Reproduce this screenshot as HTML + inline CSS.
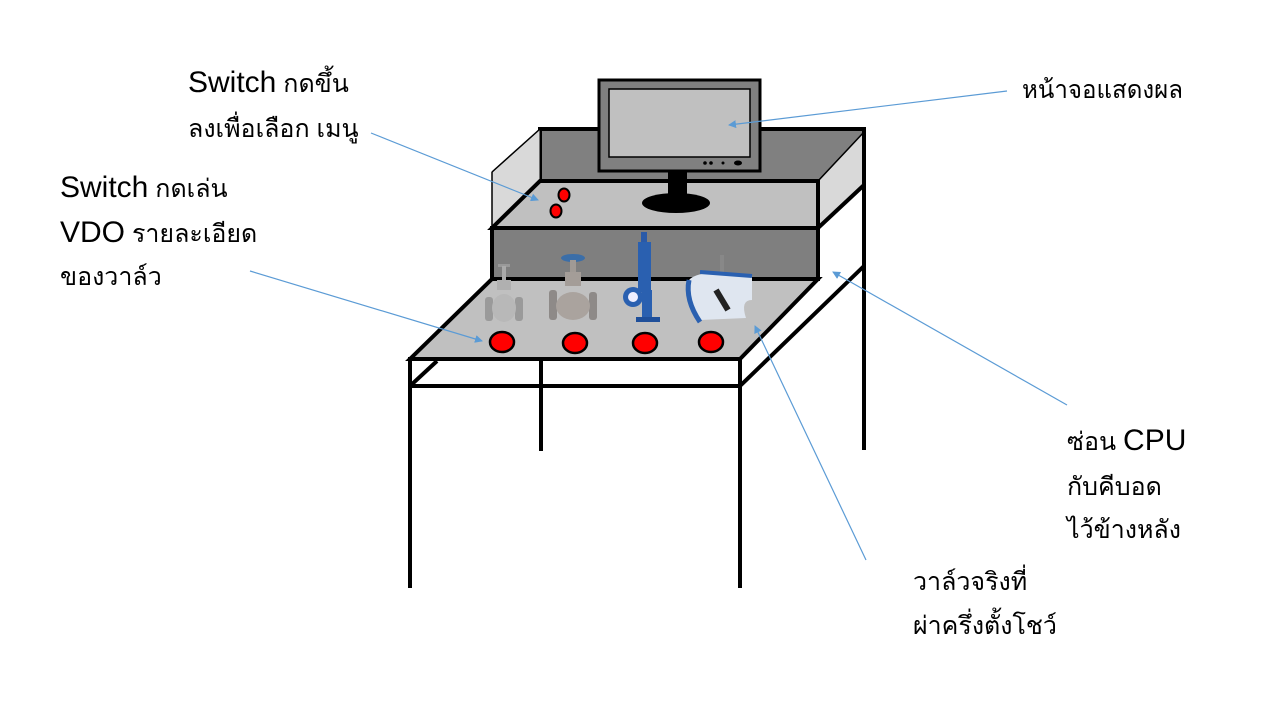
<!DOCTYPE html>
<html><head><meta charset="utf-8"><style>
html,body{margin:0;padding:0;background:#fff;}
svg{display:block;}
text{font-family:"Liberation Sans","DejaVu Sans",sans-serif;fill:#000;}
.t{font-size:25px;}
.b{font-size:30px;}
</style></head><body>
<svg width="1280" height="720" viewBox="0 0 1280 720" xmlns="http://www.w3.org/2000/svg">
<defs>
<marker id="ah" markerWidth="8" markerHeight="8" refX="7" refY="4" orient="auto" markerUnits="userSpaceOnUse">
<path d="M0,0 L8,4 L0,8 z" fill="#5b9bd5"/></marker>
</defs>
<g stroke="#000" stroke-width="4" fill="none">
<rect x="540" y="129" width="324" height="52" fill="#808080"/>
<polygon points="492,172 540,129 540,181 492,227" fill="#d9d9d9" stroke-width="1"/>
<polygon points="818,181 864,132 864,185 818,228" fill="#d9d9d9" stroke-width="1"/>
<line x1="492" y1="172" x2="540" y2="129" stroke-width="1.5"/>
<line x1="864" y1="132" x2="818" y2="181" stroke-width="1.5"/>
<polygon points="540,181 818,181 818,228 492,228" fill="#c0c0c0"/>
<line x1="492" y1="172" x2="492" y2="228" stroke-width="1.5"/>
<rect x="492" y="228" width="326" height="51" fill="#7f7f7f"/>
<line x1="818" y1="228" x2="864" y2="185"/>
<line x1="864" y1="129" x2="864" y2="450"/>
<line x1="740" y1="386" x2="864" y2="266"/>
<line x1="410" y1="386" x2="437" y2="361"/>
<line x1="541" y1="359" x2="541" y2="451"/>
<rect x="410" y="359" width="330" height="27"/>
<line x1="410" y1="359" x2="410" y2="588"/>
<line x1="740" y1="359" x2="740" y2="588"/>
<polygon points="492,279 818,279 740,359 410,359" fill="#c0c0c0"/>
</g>
<rect x="599" y="80" width="161" height="91" fill="#808080" stroke="#000" stroke-width="3"/>
<rect x="609" y="89" width="141" height="68" fill="#c0c0c0" stroke="#000" stroke-width="1.5"/>
<circle cx="705" cy="163" r="1.8" fill="#000"/><circle cx="711" cy="163" r="1.8" fill="#000"/>
<circle cx="723" cy="163" r="1.5" fill="#000"/><ellipse cx="738" cy="163" rx="4" ry="2.5" fill="#000"/>
<rect x="668" y="171" width="19" height="25" fill="#000"/>
<ellipse cx="676" cy="203" rx="34" ry="10" fill="#000"/>
<ellipse cx="564" cy="195" rx="5.5" ry="6.5" fill="#f00" stroke="#000" stroke-width="2"/>
<ellipse cx="556" cy="211" rx="5.5" ry="6.5" fill="#f00" stroke="#000" stroke-width="2"/>
<g fill="#f00" stroke="#000" stroke-width="2.5">
<ellipse cx="502" cy="342" rx="12" ry="10"/>
<ellipse cx="575" cy="343" rx="12" ry="10"/>
<ellipse cx="645" cy="343" rx="12" ry="10"/>
<ellipse cx="711" cy="342" rx="12" ry="10"/>
</g>
<g>
<rect x="498" y="264" width="12" height="3" fill="#999"/>
<rect x="502" y="266" width="4" height="20" fill="#aaa"/>
<rect x="497" y="280" width="14" height="10" fill="#b0b0b0"/>
<rect x="485" y="297" width="8" height="24" rx="3" fill="#9a9a9a"/>
<rect x="515" y="297" width="8" height="24" rx="3" fill="#9a9a9a"/>
<ellipse cx="504" cy="308" rx="12" ry="14" fill="#b8b8b8"/>
</g>
<g>
<ellipse cx="573" cy="258" rx="12" ry="4" fill="#3b6ea8"/>
<rect x="570" y="260" width="6" height="12" fill="#a09a95"/>
<rect x="565" y="272" width="16" height="14" fill="#a49d98"/>
<rect x="549" y="290" width="8" height="30" rx="3" fill="#8e8a88"/>
<rect x="589" y="292" width="8" height="28" rx="3" fill="#8e8a88"/>
<ellipse cx="573" cy="306" rx="17" ry="14" fill="#aaa39e"/>
</g>
<g>
<rect x="641" y="232" width="6" height="10" fill="#2a5aa8"/>
<rect x="638" y="242" width="13" height="50" fill="#2a60b0"/>
<circle cx="633" cy="297" r="10" fill="#2a60b0"/><circle cx="633" cy="297" r="5" fill="#eef"/>
<rect x="642" y="290" width="10" height="28" fill="#2a60b0"/>
<rect x="636" y="317" width="24" height="5" fill="#1f4f9a"/>
</g>
<g>
<rect x="720" y="255" width="4" height="20" fill="#888"/>
<path d="M689,280 Q700,268 752,276 L752,300 Q740,300 746,318 L700,320 Q688,305 689,280z" fill="#dfe6f0"/>
<path d="M689,280 Q685,300 700,322" stroke="#2a60b0" stroke-width="5" fill="none"/>
<path d="M700,272 L752,276" stroke="#2a60b0" stroke-width="4"/>
<path d="M716,290 L728,310" stroke="#222" stroke-width="6"/>
</g>
<g stroke="#5b9bd5" stroke-width="1.2" fill="none" marker-end="url(#ah)">
<line x1="371" y1="133" x2="538" y2="200"/>
<line x1="250" y1="271" x2="482" y2="341"/>
<line x1="1007" y1="91" x2="729" y2="125"/>
<line x1="1067" y1="405" x2="833" y2="272"/>
<line x1="866" y1="560" x2="755" y2="326"/>
</g>
<text x="188" y="92"><tspan class="b">Switch</tspan><tspan class="t"> กดขึ้น</tspan></text>
<text x="188" y="137" class="t">ลงเพื่อเลือก เมนู</text>
<text x="60" y="197"><tspan class="b">Switch</tspan><tspan class="t"> กดเล่น</tspan></text>
<text x="60" y="242"><tspan class="b">VDO</tspan><tspan class="t"> รายละเอียด</tspan></text>
<text x="60" y="285" class="t">ของวาล์ว</text>
<text x="1022" y="98" class="t" textLength="161" lengthAdjust="spacingAndGlyphs">หน้าจอแสดงผล</text>
<text x="1067" y="450"><tspan class="t">ซ่อน </tspan><tspan class="b">CPU</tspan></text>
<text x="1067" y="495" class="t">กับคีบอด</text>
<text x="1067" y="538" class="t">ไว้ข้างหลัง</text>
<text x="913" y="590" class="t">วาล์วจริงที่</text>
<text x="913" y="634" class="t">ผ่าครึ่งตั้งโชว์</text>
</svg>
</body></html>
